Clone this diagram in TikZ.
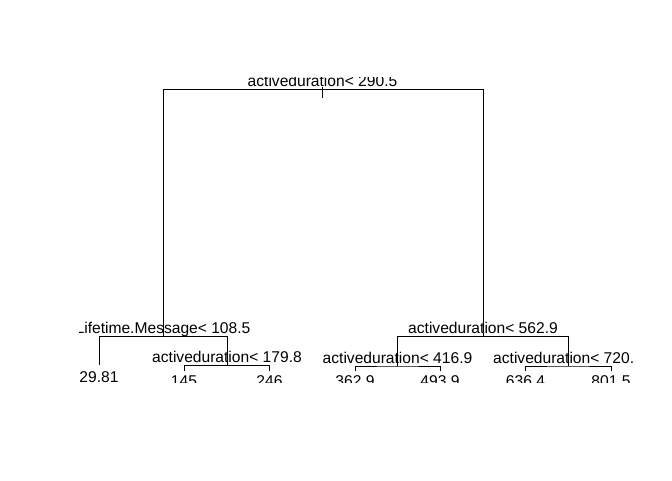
\documentclass[tikz,border=0pt]{standalone}
\usepackage{fontspec}
\setmainfont{Liberation Sans}
\usepackage{tikz}
\usepackage{xcolor}

\begin{document}
\begin{tikzpicture}[x=1pt,y=-1pt,line width=1pt,
  splitlabel/.style={anchor=base,inner sep=0pt,font=\fontsize{15.6}{18}\selectfont},
  leaflabel/.style={anchor=base,inner sep=0pt,font=\fontsize{15.6}{18}\selectfont}]
\useasboundingbox (0,0) rectangle (672,480);
\begin{scope}
\clip (79,77) rectangle (632,382);
\coordinate (n1) at (322.5,89.5);
\coordinate (n2) at (163,336.5);
\coordinate (n3) at (483,336.5);
\coordinate (n4) at (99,364.5);
\coordinate (n5) at (227,365.5);
\coordinate (n6) at (397.5,366);
\coordinate (n7) at (568,366);
\coordinate (n10) at (184,370.5);
\coordinate (n11) at (269.5,370.5);
\coordinate (n12) at (355,370.5);
\coordinate (n13) at (440,370.5);
\coordinate (n14) at (525.5,370.5);
\coordinate (n15) at (611,370.5);
\coordinate (stemtop) at (322.5,87);
\coordinate (stembot) at (322.5,98);
\draw (n2) |- (n1) -| (n3);
\draw (stemtop) -- (stembot);
\draw (n4) |- (n2) -| (n5);
\draw (n10) |- (n5) -| (n11);
\draw (n6) |- (n3) -| (n7);
\draw (n12) |- (n6) -| (n13);
\draw (n14) |- (n7) -| (n15);
\node[splitlabel] (s1) at (322.5,86.7) {activeduration< 290.5};
\node[splitlabel] (s2) at (163,333.7) {Lifetime.Message< 108.5};
\node[splitlabel] (s3) at (483,333.7) {activeduration< 562.9};
\node[splitlabel] (s5) at (227,362.7) {activeduration< 179.8};
\node[splitlabel] (s6) at (397.5,363.2) {activeduration< 416.9};
\node[splitlabel] (s7) at (568,363.2) {activeduration< 720.5};
\node[leaflabel] (l4) at (99,382) {29.81};
\node[leaflabel] (l10) at (184,386.5) {145};
\node[leaflabel] (l11) at (269.5,386.5) {246};
\node[leaflabel] (l12) at (355,386.5) {362.9};
\node[leaflabel] (l13) at (440,386.5) {493.9};
\node[leaflabel] (l14) at (525.5,386.5) {636.4};
\node[leaflabel] (l15) at (611,386.5) {801.5};
\end{scope}
\end{tikzpicture}
\end{document}
